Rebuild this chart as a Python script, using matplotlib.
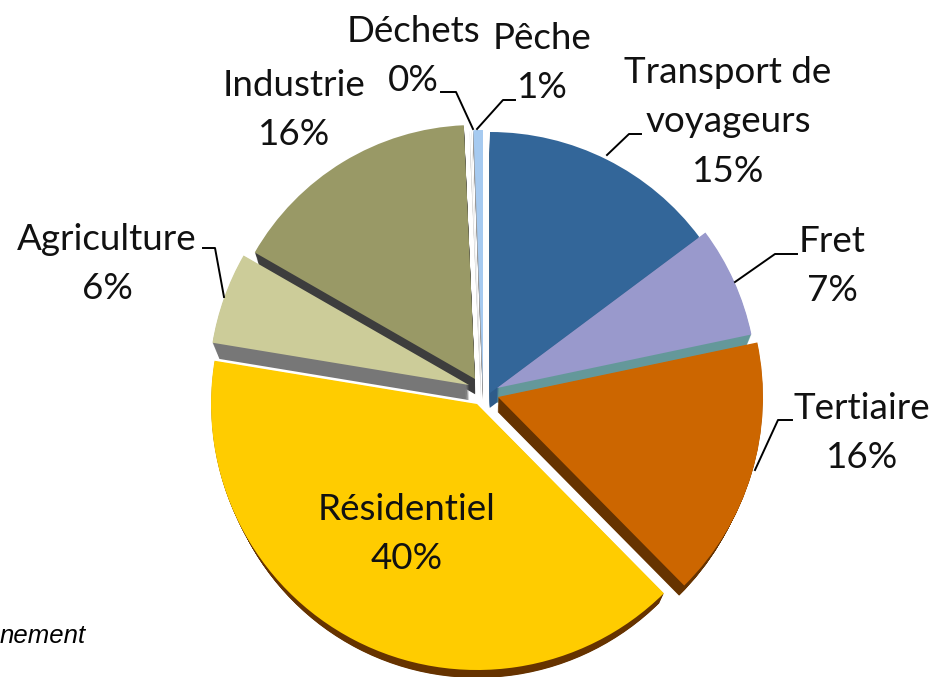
import numpy as np
import matplotlib
matplotlib.use('Agg')
import matplotlib.pyplot as plt
from matplotlib.patches import PathPatch
from matplotlib.path import Path

# slice values, clockwise from the top
categories = ['Transport de\nvoyageurs', 'Fret', 'Tertiaire', 'Résidentiel', 'Agriculture', 'Industrie', 'Déchets', 'Pêche']
values = [14.8, 6.9, 15.9, 40.0, 5.7, 16.0, 0.1, 0.6]
pct_labels = ['15%', '7%', '16%', '40%', '6%', '16%', '0%', '1%']

top_colors = ['#336699', '#9999cc', '#cc6600', '#ffcc00', '#cccc99', '#999966', '#ffffff', '#a6caf0']
side_colors = ['#2d5b8a', '#64989a', '#663300', '#663300', '#777777', '#3d3d3d', '#dddddd', '#999999']

H = 677

# apex and radius of each exploded slice, in image pixels
apex = [(490, 393), (497, 388), (498, 397), (477, 404), (469, 385), (475, 379), (481, 385), (483, 385)]
radii = [261, 260, 265, 266, 260, 254, 255, 255]
draw_order = [6, 7, 0, 5, 1, 4, 2, 3]

label_pos = [(728, 122), (832, 266), (862, 433), (407, 534), (107, 264), (294, 110), (413, 56), (542, 63)]

leaders = [
    [(607, 155), (629, 134), (641, 134)],
    [(735, 282), (775, 254), (797, 254)],
    [(755, 470), (778, 420), (792, 420)],
    [(224, 297), (215, 248), (203, 248)],
    [(473, 129), (456, 92), (441, 92)],
    [(477, 129), (503, 100), (515, 100)],
]

fig = plt.figure(figsize=(9.36, 6.77), dpi=100)
ax = fig.add_axes([0, 0, 1, 1])

wedges, _ = ax.pie(values, startangle=90, counterclock=False, radius=262,
                   center=(480, H - 390), frame=True)
ax.set_xlim(0, 936)
ax.set_ylim(0, H)
ax.set_aspect('equal')
ax.axis('off')

# the bottom face shrinks a bit toward the middle, so the sides look 3D
DEPTH = 15
SHRINK = 0.025
mid = np.array([480, H - 390])

for z, i in enumerate(draw_order):
    w = wedges[i]
    w.set_center((apex[i][0], H - apex[i][1]))
    w.set_radius(radii[i])
    w.set_facecolor(top_colors[i])
    w.set_edgecolor('none')
    w.set_zorder(2 * z + 2)
    path = w.get_path()
    verts = w.get_patch_transform().transform(path.vertices)
    for t in np.linspace(1, 0.05, 16):
        v = verts + (mid - verts) * SHRINK * t - np.array([0, DEPTH * t])
        ax.add_patch(PathPatch(Path(v, path.codes), fc=side_colors[i], ec='none', zorder=2 * z + 1))

for pts in leaders:
    pts = np.array(pts)
    ax.plot(pts[:, 0], H - pts[:, 1], color='black', lw=1.4, zorder=30)

for name, pct, pos in zip(categories, pct_labels, label_pos):
    ax.text(pos[0], H - pos[1], name + '\n' + pct, ha='center', va='center',
            family='Lato', fontsize=26.5, linespacing=1.62, color='#111111', zorder=40)

ax.text(86, H - 643, 'nement', ha='right', va='baseline', family='Liberation Sans',
        style='italic', fontsize=18.5, color='black', zorder=40)

fig.savefig('out.png', dpi=100, facecolor='white')
